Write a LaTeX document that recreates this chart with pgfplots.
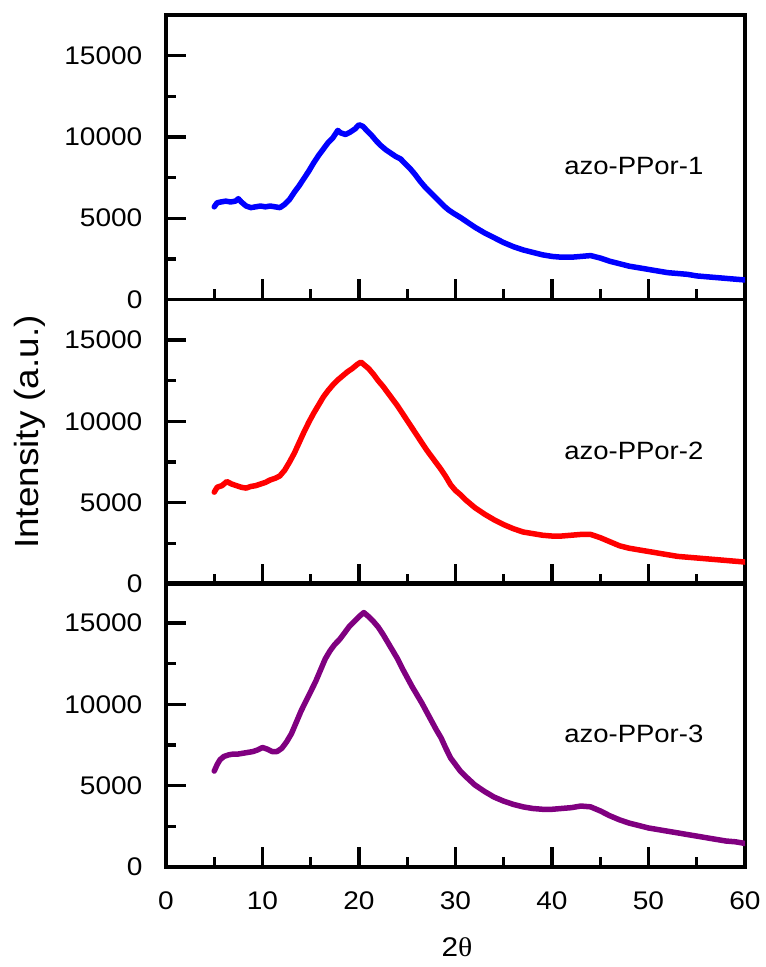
\documentclass[border=0pt]{standalone}
\usepackage{pgfplots}
\pgfplotsset{compat=1.18}
\usepackage{fontspec}
\setmainfont{Liberation Sans}[FakeStretch=1.1]
\newfontfamily\thetafont{Liberation Serif}[FakeStretch=1.1]
\definecolor{cblue}{RGB}{0,0,255}
\definecolor{cred}{RGB}{255,0,0}
\definecolor{cpurple}{RGB}{128,0,128}
\pgfplotsset{
  panel/.style={
    scale only axis, width=579pt, height=284.5pt,
    xmin=0, xmax=60, ymin=0, ymax=17500,
    xtick={0,10,...,60}, ytick={0,5000,10000,15000},
    scaled y ticks=false, scaled x ticks=false,
    minor x tick num=1, minor y tick num=1,
    tick pos=left, tick align=inside,
    major tick length=20pt, minor tick length=10pt,
    line width=3.3pt,
    axis line style={line width=3.3pt},
    every tick/.style={black, line width=3.3pt},
    /pgf/number format/assume math mode=true,
    /pgf/number format/1000 sep={},
    yticklabel style={font=\fontsize{25.5pt}{28pt}\selectfont, inner sep=0pt, anchor=east, xshift=-22pt},
    xticklabel style={font=\fontsize{25.5pt}{28pt}\selectfont, inner sep=0pt, anchor=north, yshift=-23pt},
    anchor=south west,
  },
  curve/.style={line width=5.5pt, line join=round, line cap=round},
}
\begin{document}
\begin{tikzpicture}
\useasboundingbox (0,0) rectangle (766pt,967pt);
% top panel
\begin{axis}[panel, at={(166pt,667.5pt)}, xticklabels={}]
\addplot[curve, cblue] coordinates {
(5,5700)(5.3,5950)(5.7,6000)(6.2,6050)(6.7,6000)(7.2,6050)(7.5,6200)(7.8,6000)
(8.3,5750)(8.8,5650)(9.3,5700)(9.8,5750)(10.3,5700)(10.8,5750)(11.3,5700)(11.8,5650)
(12.3,5850)(12.8,6150)(13.3,6600)(13.8,7000)(14.3,7450)(14.8,7900)(15.3,8400)(15.8,8850)
(16.3,9250)(16.8,9650)(17.3,9950)(17.8,10400)(18.1,10250)(18.6,10150)(19.1,10300)(19.6,10500)
(20.0,10750)(20.4,10650)(20.8,10400)(21.3,10100)(21.8,9750)(22.3,9450)(22.8,9200)(23.3,9000)
(23.8,8800)(24.3,8650)(24.8,8350)(25.3,8050)(25.8,7700)(26.3,7300)(26.8,6950)(27.3,6650)
(27.8,6350)(28.3,6050)(28.8,5750)(29.3,5500)(29.8,5300)(30.5,5050)(31,4850)(32,4450)
(33,4100)(34,3800)(35,3500)(36,3250)(37,3050)(38,2900)(39,2750)(40,2650)(41,2600)(42,2600)
(43,2650)(44,2700)(45,2550)(46,2350)(47,2200)(48,2050)(49,1950)(50,1850)(51,1750)(52,1650)
(53,1600)(54,1550)(55,1450)(56,1400)(57,1350)(58,1300)(59,1250)(60,1200)};
\node[anchor=west, inner sep=0pt, font=\fontsize{25pt}{28pt}\selectfont] at (axis cs:41.1,8200) {azo-PPor-1};
\end{axis}
% middle panel
\begin{axis}[panel, at={(166pt,383pt)}, xticklabels={}]
\addplot[curve, cred] coordinates {
(5,5650)(5.3,5950)(5.8,6050)(6.3,6300)(6.8,6150)(7.3,6050)(7.8,5950)(8.3,5900)(8.8,6000)
(9.3,6050)(9.8,6150)(10.3,6250)(10.8,6400)(11.3,6500)(11.8,6650)(12.3,7000)(12.8,7500)
(13.3,8050)(13.8,8700)(14.3,9350)(14.8,9950)(15.3,10500)(15.8,11000)(16.3,11500)(16.8,11900)
(17.3,12250)(17.8,12550)(18.3,12800)(18.8,13050)(19.3,13250)(19.8,13500)(20.2,13650)(20.6,13450)
(21.0,13250)(21.5,12900)(22.0,12500)(22.5,12150)(23.0,11750)(23.5,11350)(24.0,10950)(24.5,10500)
(25.0,10050)(25.5,9600)(26.0,9150)(26.5,8700)(27.0,8250)(27.5,7850)(28.0,7450)(28.5,7050)
(29.0,6600)(29.5,6100)(30,5750)(30.5,5500)(31,5200)(32,4700)(33,4300)(34,3950)(35,3650)
(36,3400)(37,3200)(38,3100)(39,3000)(40,2950)(41,2950)(42,3000)(43,3050)(44,3050)(45,2850)
(46,2600)(47,2350)(48,2200)(49,2100)(50,2000)(51,1900)(52,1800)(53,1700)(54,1650)(55,1600)
(56,1550)(57,1500)(58,1450)(59,1400)(60,1350)};
\node[anchor=west, inner sep=0pt, font=\fontsize{25pt}{28pt}\selectfont] at (axis cs:41.1,8200) {azo-PPor-2};
\end{axis}
% bottom panel
\begin{axis}[panel, at={(166pt,100pt)}]
\addplot[curve, cpurple] coordinates {
(5,5900)(5.3,6300)(5.6,6600)(6,6800)(6.5,6900)(7,6950)(7.5,6950)(8,7000)(8.5,7050)(9,7100)
(9.5,7200)(10,7350)(10.5,7250)(11,7100)(11.5,7100)(12,7300)(12.5,7700)(13,8200)(13.5,8900)
(14,9600)(14.5,10200)(15,10800)(15.5,11400)(16,12100)(16.5,12800)(17,13300)(17.5,13700)
(18,14000)(18.5,14400)(19,14800)(19.5,15100)(20,15400)(20.5,15650)(21,15400)(21.5,15100)
(22,14750)(22.5,14300)(23,13800)(23.5,13300)(24,12800)(24.5,12200)(25,11650)(25.5,11100)
(26,10600)(26.5,10100)(27,9550)(27.5,9000)(28,8450)(28.5,7950)(29,7300)(29.5,6700)(30,6300)
(30.5,5900)(31,5600)(32,5050)(33,4650)(34,4300)(35,4050)(36,3850)(37,3700)(38,3600)(39,3550)
(40,3550)(41,3600)(42,3650)(43,3750)(44,3700)(45,3450)(46,3150)(47,2900)(48,2700)(49,2550)
(50,2400)(51,2300)(52,2200)(53,2100)(54,2000)(55,1900)(56,1800)(57,1700)(58,1600)(59,1550)(60,1450)};
\node[anchor=west, inner sep=0pt, font=\fontsize{25pt}{28pt}\selectfont] at (axis cs:41.1,8200) {azo-PPor-3};
\end{axis}
\node[rotate=90, inner sep=0pt, font=\fontsize{33.5pt}{36pt}\selectfont] at (30pt,535pt) {Intensity (a.u.)};
\node[inner sep=0pt, font=\fontsize{27pt}{30pt}\selectfont] at (457pt,19.5pt) {2{\thetafont θ}};
\end{tikzpicture}
\end{document}
